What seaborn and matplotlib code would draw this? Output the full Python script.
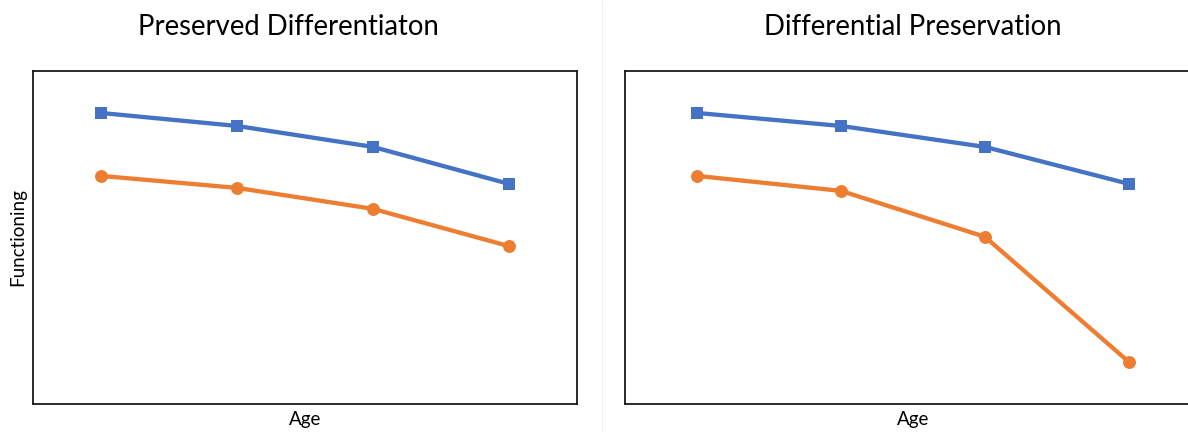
import matplotlib
matplotlib.use("Agg")
import matplotlib.pyplot as plt
import seaborn as sns
import pandas as pd

# Age points (unlabelled categories along the x axis)
age_points = [1, 2, 3, 4]

# Functioning scores per group
high_group = [8.74, 8.35, 7.72, 6.61]
low_group_preserved = [6.85, 6.49, 5.86, 4.74]
low_group_differential = [6.85, 6.40, 5.02, 1.26]

panel_titles = ["Preserved Differentiaton", "Differential Preservation"]
x_label = "Age"
y_label = "Functioning"

blue = "#4472C4"
orange = "#ED7D31"

sns.set_theme(style="white")
plt.rcParams["font.family"] = ["Lato", "DejaVu Sans"]


def long_frame(low_values):
    return pd.DataFrame({
        "age": age_points * 2,
        "value": high_group + low_values,
        "group": ["high"] * 4 + ["low"] * 4,
    })


fig = plt.figure(figsize=(11.88, 4.32), dpi=100)
ax_left = fig.add_axes([33 / 1188, 28 / 432, 544 / 1188, 333 / 432])
ax_right = fig.add_axes([625 / 1188, 28 / 432, 576 / 1188, 333 / 432])

for ax, low_values in ((ax_left, low_group_preserved), (ax_right, low_group_differential)):
    sns.lineplot(
        data=long_frame(low_values), x="age", y="value",
        hue="group", style="group",
        palette={"high": blue, "low": orange},
        markers={"high": "s", "low": "o"}, dashes=False,
        linewidth=3.1, markersize=9.3, markeredgewidth=0,
        legend=False, ax=ax,
    )
    ax.set_xlim(0.5, 4.5)
    ax.set_ylim(0, 10)
    ax.set_xticks([])
    ax.set_yticks([])
    ax.set_xlabel("")
    ax.set_ylabel("")
    for side in ("left", "right", "top", "bottom"):
        ax.spines[side].set_visible(True)
        ax.spines[side].set_color("#1a1a1a")
        ax.spines[side].set_linewidth(1.3)

# Titles and axis labels
fig.text(288 / 1188, 1 - 27 / 432, panel_titles[0], ha="center", va="center", fontsize=19.8, color="black")
fig.text(913 / 1188, 1 - 27 / 432, panel_titles[1], ha="center", va="center", fontsize=19.8, color="black")
fig.text(305 / 1188, 1 - 420 / 432, x_label, ha="center", va="center", fontsize=13.5, color="black")
fig.text(913 / 1188, 1 - 420 / 432, x_label, ha="center", va="center", fontsize=13.5, color="black")
fig.text(18 / 1188, 1 - 237 / 432, y_label, ha="center", va="center", rotation=90, fontsize=13.5, color="black")

# Faint separator between the two panels
fig.add_artist(plt.Line2D([602 / 1188, 602 / 1188], [0, 1], color="#f0f0f0", linewidth=0.8))

fig.savefig("out.png", dpi=100)
